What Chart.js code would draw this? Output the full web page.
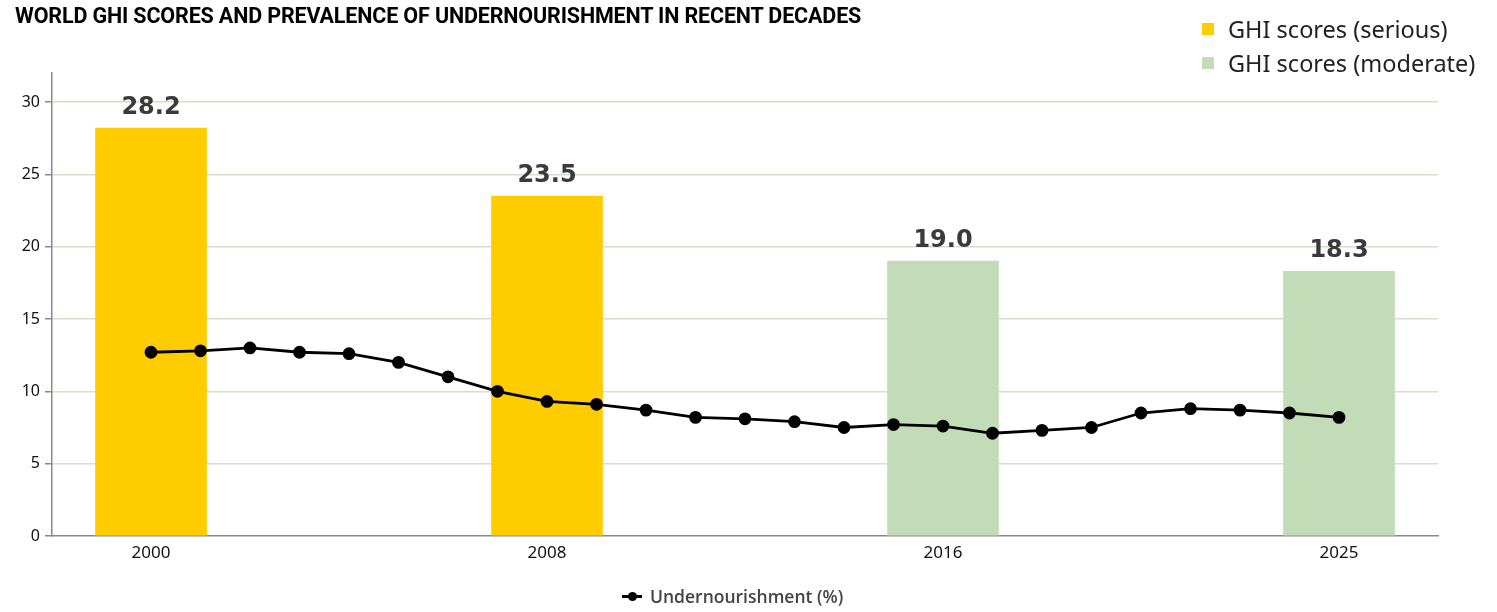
<!DOCTYPE html>
<html>
<head>
<meta charset="utf-8">
<script src="https://cdn.jsdelivr.net/npm/chart.js@4.4.1/dist/chart.umd.min.js"></script>
<style>
  body { margin: 0; background: #fff; }
  #wrap { position: relative; width: 1497px; height: 612px; }
  #title {
    position: absolute; left: 15px; top: 3px;
    font-family: Roboto, sans-serif; font-weight: 700; font-size: 21.5px;
    color: #000; letter-spacing: -0.15px;
  }
  #topLegend { position: absolute; left: 1202px; top: 12px; font-family: "Noto Sans", sans-serif; font-size: 23.5px; color: #222; }
  #topLegend div { display: flex; align-items: center; height: 34px; }
  #topLegend span.box { display: inline-block; width: 12px; height: 12px; margin-right: 14px; }
  #bottomLegend {
    position: absolute; left: 622px; top: 584px; display: flex; align-items: center;
    font-family: "Open Sans", sans-serif; font-weight: 600; font-size: 17.5px; color: #444;
  }
  #bottomLegend .mk { position: relative; width: 20px; height: 10px; margin-right: 8px; }
  #bottomLegend .mk:before { content: ""; position: absolute; left: 0; top: 4px; width: 20px; height: 3px; background: #000; }
  #bottomLegend .mk:after { content: ""; position: absolute; left: 6px; top: 1px; width: 9px; height: 9px; border-radius: 50%; background: #000; }
  canvas { position: absolute; left: 0; top: 0; }
</style>
</head>
<body>
<div id="wrap">
  <canvas id="ghi-chart" width="1497" height="612"></canvas>
  <div id="title">WORLD GHI SCORES AND PREVALENCE OF UNDERNOURISHMENT IN RECENT DECADES</div>
  <div id="topLegend">
    <div><span class="box" style="background:#ffcc00"></span>GHI scores (serious)</div>
    <div><span class="box" style="background:#c2dcb7"></span>GHI scores (moderate)</div>
  </div>
  <div id="bottomLegend"><span class="mk"></span>Undernourishment (%)</div>
</div>
<script>
// x positions are year indexes counted from 2000; only four are labelled
const tickPositions = [0, 8, 16, 24];
const tickLabels = ["2000", "2008", "2016", "2025"];
const yTicks = [0, 5, 10, 15, 20, 25, 30];

const seriousPos = [0, 8];
const ghiSerious = [28.2, 23.5];
const moderatePos = [16, 24];
const ghiModerate = [19.0, 18.3];

const undernourishment = [12.7, 12.8, 13.0, 12.7, 12.6, 12.0, 11.0, 10.0, 9.3, 9.1, 8.7, 8.2, 8.1,
  7.9, 7.5, 7.7, 7.6, 7.1, 7.3, 7.5, 8.5, 8.8, 8.7, 8.5, 8.2];

const toPoints = (xs, ys) => ys.map((y, i) => ({ x: xs[i], y: y }));

// value labels above the bars
const barLabels = {
  id: "barLabels",
  afterDatasetsDraw(chart) {
    const ctx = chart.ctx;
    ctx.save();
    ctx.font = "bold 24px 'DejaVu Sans'";
    ctx.fillStyle = "#3a3a3a";
    ctx.textAlign = "center";
    ctx.textBaseline = "bottom";
    chart.data.datasets.forEach((ds, di) => {
      if (ds.type !== "bar") return;
      chart.getDatasetMeta(di).data.forEach((bar, i) => {
        ctx.fillText(ds.data[i].y.toFixed(1), bar.x, bar.y - 8);
      });
    });
    ctx.restore();
  }
};

new Chart(document.getElementById("ghi-chart").getContext("2d"), {
  data: {
    datasets: [
      {
        type: "line",
        label: "Undernourishment (%)",
        data: undernourishment.map((v, i) => ({ x: i, y: v })),
        borderColor: "#000",
        backgroundColor: "#000",
        borderWidth: 2.8,
        pointRadius: 5,
        pointBackgroundColor: "#000",
        tension: 0,
        order: 0
      },
      {
        type: "bar",
        label: "GHI scores (serious)",
        data: toPoints(seriousPos, ghiSerious),
        backgroundColor: "#ffcc00",
        barThickness: 111,
        grouped: false,
        order: 1
      },
      {
        type: "bar",
        label: "GHI scores (moderate)",
        data: toPoints(moderatePos, ghiModerate),
        backgroundColor: "#c2dcb7",
        barThickness: 111,
        grouped: false,
        order: 1
      }
    ]
  },
  options: {
    responsive: false,
    animation: false,
    layout: { padding: { left: 0, top: 73, right: 59, bottom: 36 } },
    plugins: { legend: { display: false }, tooltip: { enabled: false } },
    scales: {
      x: {
        type: "linear",
        min: -2,
        max: 26,
        offset: false,
        afterBuildTicks: (axis) => { axis.ticks = tickPositions.map((v) => ({ value: v })); },
        afterFit: (axis) => { axis.height = 40; },
        grid: { display: false, drawTicks: false, offset: false },
        border: { color: "#8a8a8a", width: 1.5 },
        ticks: {
          padding: 7,
          color: "#111",
          font: { family: "Noto Sans", size: 17 },
          maxRotation: 0,
          callback: (v) => tickLabels[tickPositions.indexOf(v)]
        }
      },
      y: {
        min: 0,
        max: 32,
        afterBuildTicks: (axis) => { axis.ticks = yTicks.map((v) => ({ value: v })); },
        afterFit: (axis) => { axis.width = 52; },
        grid: {
          color: (c) => (c.tick && c.tick.value === 0 ? "rgba(0,0,0,0)" : "#cfe3c6"),
          lineWidth: 1.5,
          tickLength: 7,
          tickColor: "#8a8a8a"
        },
        border: { color: "#8a8a8a", width: 1.5 },
        ticks: {
          padding: 5,
          color: "#111",
          font: { family: "Noto Sans", size: 16 }
        }
      }
    }
  },
  plugins: [barLabels]
});
</script>
</body>
</html>
